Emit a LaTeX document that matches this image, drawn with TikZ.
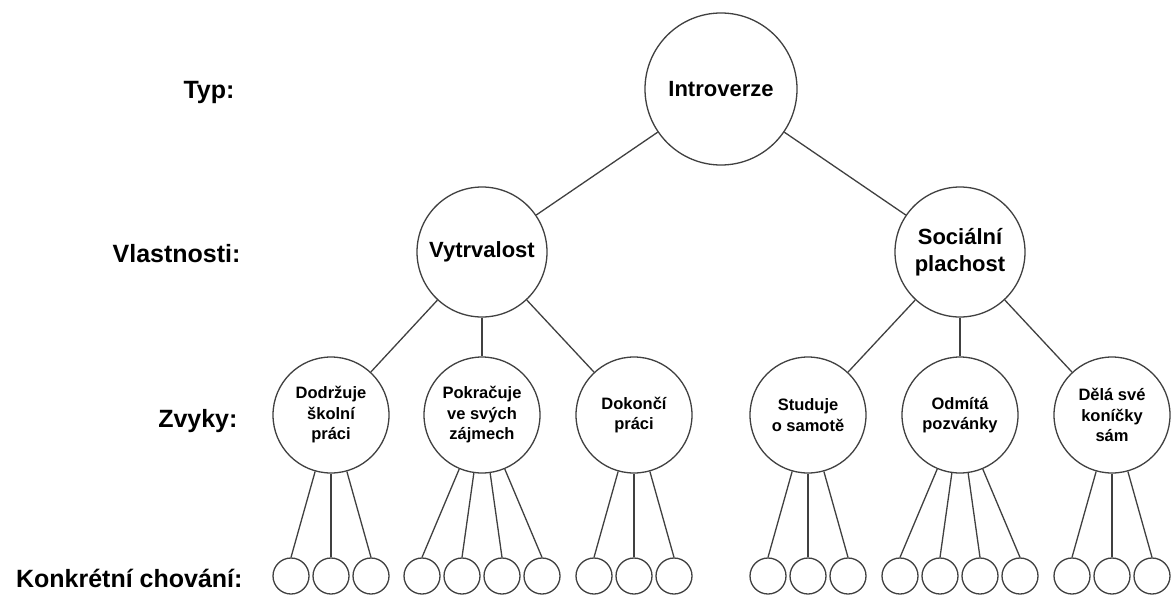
\documentclass[tikz,border=0pt]{standalone}
\usepackage{fontspec}
\setmainfont{Liberation Sans}
\usetikzlibrary{positioning}
\tikzstyle{typ} = [circle, draw=black!75, line width=1.3pt, minimum size=152pt, inner sep=0pt, align=center, font=\bfseries\fontsize{22}{27}\selectfont]
\tikzstyle{trait} = [typ, minimum size=130pt]
\tikzstyle{habit} = [typ, minimum size=116pt, font=\bfseries\fontsize{16.5}{20.5}\selectfont]
\tikzstyle{leaf} = [circle, draw=black!75, line width=1.3pt, minimum size=36pt, inner sep=0pt]
\tikzstyle{level} = [anchor=base east, font=\bfseries\fontsize{25}{30}\selectfont]
\tikzstyle{link} = [draw=black!75, line width=1.3pt]

\begin{document}
\begin{tikzpicture}[x=1pt, y=-1pt]
    \useasboundingbox[fill=white] (0,0) rectangle (1174,594);
    % levels
    \node[level] (lbltyp) at (238,98) {Typ:};
    \node[level] (lblvl) at (244,262) {Vlastnosti:};
    \node[level] (lblzv) at (241,427) {Zvyky:};
    \node[level] (lblko) at (246,587) {Konkrétní chování:};

    \node[typ] (intro) at (721,89) {Introverze};
    \node[trait] (vytr) at (482,252) {Vytrvalost};
    \node[trait] (soc) at (960,252) {Sociální\\plachost};

    \node[habit] (z1) at (331,415) {Dodržuje\\školní\\práci};
    \node[habit] (z2) at (482,415) {Pokračuje\\ve svých\\zájmech};
    \node[habit] (z3) at (634,415) {Dokončí\\práci};
    \node[habit] (z4) at (808,415) {Studuje\\o samotě};
    \node[habit] (z5) at (960,415) {Odmítá\\pozvánky};
    \node[habit] (z6) at (1112,415) {Dělá své\\koníčky\\sám};

    \draw[link] (intro) -- (vytr);
    \draw[link] (intro) -- (soc);
    \foreach \z in {z1,z2,z3} \draw[link] (vytr) -- (\z);
    \foreach \z in {z4,z5,z6} \draw[link] (soc) -- (\z);

    % concrete behaviour
    \foreach \z/\x/\n in {z1/331/3, z2/482/4, z3/634/3, z4/808/3, z5/960/4, z6/1112/3} {
        \foreach \i in {1,...,\n} {
            \node[leaf] (\z-\i) at ({\x+40*(\i-(\n+1)/2)},576) {};
            \draw[link] (\z-\i.north) -- (\z);
        }
    }
\end{tikzpicture}
\end{document}
